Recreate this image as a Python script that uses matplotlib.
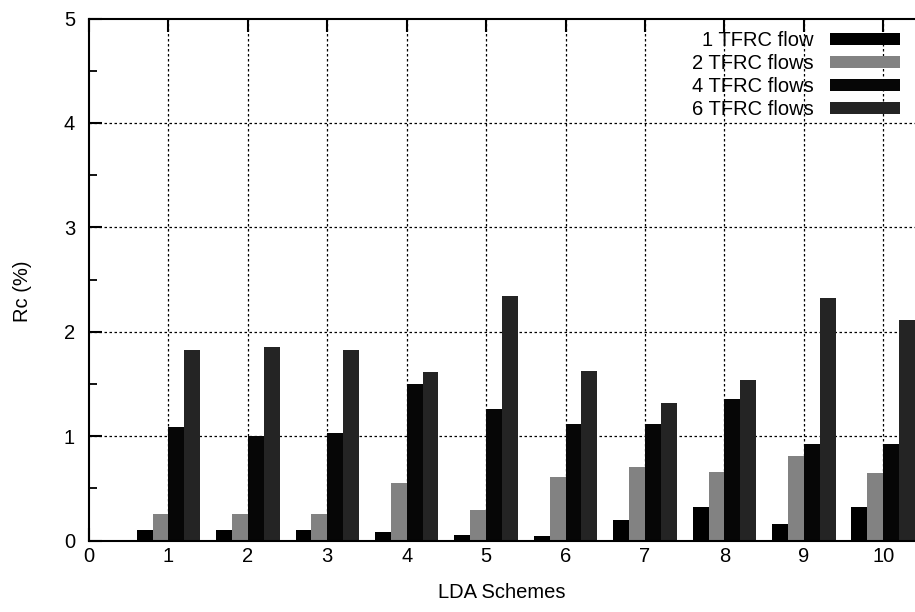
import numpy as np
import matplotlib
matplotlib.use("Agg")
import matplotlib.pyplot as plt
from matplotlib.ticker import MultipleLocator

plt.rcParams['font.family'] = ['Liberation Sans', 'DejaVu Sans']

schemes = [1, 2, 3, 4, 5, 6, 7, 8, 9, 10]
labels = ["1 TFRC flow", "2 TFRC flows", "4 TFRC flows", "6 TFRC flows"]
flow1 = [0.10, 0.10, 0.10, 0.08, 0.05, 0.04, 0.20, 0.32, 0.16, 0.32]
flow2 = [0.25, 0.25, 0.25, 0.55, 0.29, 0.61, 0.70, 0.66, 0.81, 0.65]
flow4 = [1.09, 1.00, 1.03, 1.50, 1.26, 1.12, 1.12, 1.36, 0.92, 0.92]
flow6 = [1.82, 1.85, 1.82, 1.61, 2.34, 1.62, 1.32, 1.54, 2.32, 2.11]
series = [flow1, flow2, flow4, flow6]
colors = ['#000000', '#828282', '#060606', '#242424']
offsets = [-0.3, -0.1, 0.1, 0.3]
width = 0.2

W, H = 915, 612
fig = plt.figure(figsize=(W / 100, H / 100), dpi=100)
left, right, top, bottom = 89, 915, 18.5, 540.5
ax = fig.add_axes([left / W, (H - bottom) / H, (right - left) / W, (bottom - top) / H])

x = np.array(schemes, dtype=float)
for vals, c, off, lab in zip(series, colors, offsets, labels):
    ax.bar(x + off, vals, width=width, color=c, label=lab, linewidth=0, zorder=2)

ax.set_xlim(0, 10.4)
ax.set_ylim(0, 5)
ax.set_xticks(range(0, 11))
ax.set_yticks(range(0, 6))
ax.yaxis.set_minor_locator(MultipleLocator(0.5))

for xv in range(1, 11):
    ax.axvline(xv, color='black', lw=0.9, ls=(0, (2, 2)), zorder=1)
for yv in range(1, 5):
    ax.axhline(yv, color='black', lw=0.9, ls=(0, (2, 2)), zorder=1)

ax.spines['right'].set_visible(False)
for s in ['left', 'bottom', 'top']:
    ax.spines[s].set_linewidth(1.5)

ax.tick_params(axis='both', which='major', direction='in', length=9.5, width=1.5,
               labelsize=14.5, colors='black')
ax.tick_params(axis='x', top=True, pad=5)
ax.tick_params(axis='y', pad=10)
ax.tick_params(axis='y', which='minor', direction='in', length=6, width=1.3)

ax.set_xlabel("LDA Schemes", fontsize=14.5, labelpad=12)
ax.set_ylabel("Rc (%)", fontsize=14.5)
ax.yaxis.set_label_coords(-0.069, 0.478)

leg = ax.legend(loc='upper right', bbox_to_anchor=(900 / W, 581 / H),
                bbox_transform=fig.transFigure, frameon=False, markerfirst=False,
                fontsize=14.5, labelspacing=0.2, handlelength=3.5, handleheight=0.5,
                handletextpad=0.8, borderpad=0, borderaxespad=0)

fig.savefig("out.png", dpi=100)
